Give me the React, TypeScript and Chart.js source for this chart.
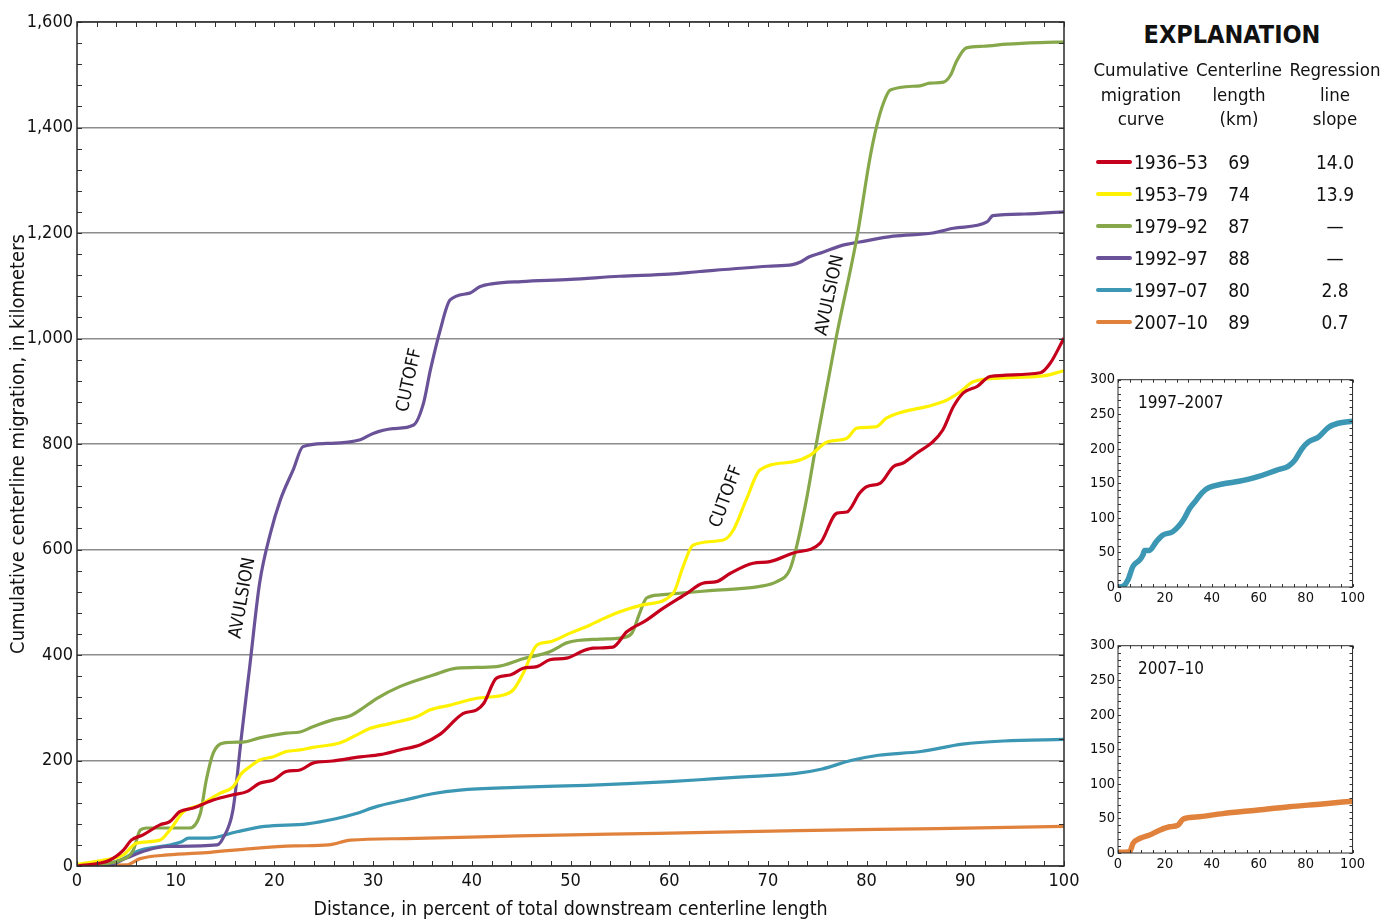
import React, { useEffect, useRef } from "react";
import { Chart, registerables } from "chart.js";

Chart.register(...registerables);

const FONT = "'Liberation Sans Narrow', 'DejaVu Sans Condensed', 'Arial Narrow', sans-serif";
Chart.defaults.font.family = FONT;

// ---------- DATA ----------
const red1936X = [0, 3.3, 4.7, 5.5, 6.7, 8.4, 9.4, 10.4, 11.8, 13.8, 15.8, 17.2, 18.5, 19.9, 21.2, 22.6, 23.9, 25.9, 28.7, 30.7, 32.7, 34.8, 36.8, 39.1, 40.5, 41.2, 42.5, 43.9, 45.2, 46.6, 47.9, 49.6, 51.3, 52.3, 54.3, 55.7, 57.7, 59.1, 61.8, 63.4, 64.8, 66.2, 68.5, 70.2, 72.5, 75.3, 77, 78, 79.3, 80, 81.4, 82.7, 83.7, 85.1, 86.7, 87.7, 88.8, 89.8, 91.2, 92.5, 97.6, 98.6, 100];
const red1936Y = [0, 11, 30, 49, 59, 78, 84, 103, 110, 125, 135, 141, 157, 163, 179, 182, 195, 199, 207, 211, 220, 230, 250, 289, 296, 308, 356, 362, 375, 378, 391, 394, 408, 413, 415, 444, 466, 485, 517, 536, 539, 555, 574, 577, 593, 612, 669, 671, 707, 719, 726, 757, 764, 783, 804, 826, 871, 897, 909, 928, 935, 953, 1001];

const yellow1953X = [0, 2.6, 4.7, 6, 8.4, 9.4, 10.8, 12.5, 14.5, 15.8, 16.7, 17.5, 18.5, 19.9, 21.2, 22.6, 23.9, 26.6, 28.7, 29.7, 31.7, 34.4, 35.8, 37.8, 40.5, 43.2, 44.2, 45.2, 46.6, 47.9, 49.9, 52, 53, 55, 57.3, 60.4, 61.4, 62.4, 65.5, 66.5, 67.8, 69.2, 72.5, 74.3, 76, 78, 79, 81, 82, 86.7, 88.1, 89.5, 90.8, 93.5, 97.9, 100];
const yellow1953Y = [3, 11, 21, 43, 49, 68, 103, 116, 138, 150, 176, 188, 201, 207, 217, 220, 225, 233, 252, 261, 270, 283, 296, 305, 318, 324, 334, 365, 419, 425, 441, 457, 466, 482, 495, 517, 567, 608, 618, 637, 694, 751, 766, 779, 804, 811, 830, 833, 849, 874, 883, 899, 918, 925, 929, 939];

const green1979X = [0, 4.4, 5.7, 6.4, 7.1, 11.4, 12.5, 13.1, 13.8, 14.8, 16.8, 18.5, 21.2, 22.6, 23.9, 25.9, 27.7, 28.7, 30.4, 32.7, 36.1, 38.5, 42.5, 45.2, 47.9, 48.9, 49.6, 53, 55, 56.2, 57, 57.7, 59.1, 64.1, 69.2, 70.9, 72.2, 72.9, 73.9, 74.9, 76.9, 79.1, 80.3, 81, 81.7, 82.4, 85.4, 86.4, 87.8, 88.5, 89.1, 90.1, 91.8, 94.2, 97.6, 100];
const green1979Y = [0, 11, 30, 68, 72, 72, 100, 163, 214, 233, 235, 243, 252, 254, 264, 277, 285, 296, 318, 340, 362, 375, 378, 393, 406, 416, 423, 430, 432, 441, 479, 508, 514, 522, 530, 539, 561, 605, 694, 800, 1000, 1200, 1338, 1401, 1446, 1471, 1479, 1484, 1486, 1499, 1525, 1551, 1554, 1558, 1561, 1562];

const purple1992X = [0, 3.3, 5, 7.1, 9.1, 14.2, 14.8, 15.8, 16.7, 17.5, 18.5, 19.6, 20.6, 21.9, 22.9, 25.3, 28.7, 30, 32, 34.1, 35.1, 35.8, 36.8, 37.8, 39.8, 40.8, 42.2, 45, 50, 55, 60, 63.1, 70, 72.5, 73.3, 74.2, 75.5, 77.6, 79.3, 82.7, 86.7, 88.8, 92.2, 92.8, 96, 100];
const purple1992Y = [0, 2, 15, 30, 37, 40, 53, 106, 252, 378, 536, 631, 694, 751, 795, 801, 808, 820, 829, 836, 877, 940, 1016, 1073, 1086, 1098, 1104, 1108, 1112, 1118, 1122, 1127, 1137, 1140, 1145, 1155, 1163, 1177, 1183, 1194, 1200, 1209, 1221, 1233, 1236, 1240];

const teal1997X = [0, 2.1, 4.2, 6.4, 9.2, 10.6, 11.3, 13.4, 16.2, 19, 23.3, 26.1, 28.2, 30.4, 33.2, 36, 38.8, 44.5, 51.6, 55.8, 60, 64.3, 68.5, 72.7, 75.5, 78.4, 81.2, 85.5, 89.7, 93.9, 100];
const teal1997Y = [0, 1, 10, 30, 39, 46, 53, 53, 65, 75, 80, 89, 99, 113, 125, 137, 144, 149, 153, 156, 160, 165, 170, 175, 184, 200, 210, 217, 231, 237, 240];

const orange2007X = [0, 5, 6.4, 9.2, 13.5, 17.7, 22, 25.5, 27.7, 33.3, 44.7, 58.9, 73, 87.2, 100];
const orange2007Y = [1, 2, 14, 21, 26, 33, 38, 40, 49, 52, 57, 62, 67, 71, 75];

const legendYears = ["1936–53", "1953–79", "1979–92", "1992–97", "1997–07", "2007–10"];
const legendLengths = ["69", "74", "87", "88", "80", "89"];
const legendSlopes = ["14.0", "13.9", "—", "—", "2.8", "0.7"];

const annotationText = ["AVULSION", "CUTOFF", "CUTOFF", "AVULSION"];
const annotationX = [16.8, 33.7, 65.8, 76.3];
const annotationY = [508, 921, 700, 1082];
const annotationAngle = [-80, -78, -70, -78];

// ---------- STYLE ----------
const COLORS = ["#c4001c", "#fff200", "#86a84a", "#6a5298", "#3b97b3", "#e0823c"];
const seriesX = [red1936X, yellow1953X, green1979X, purple1992X, teal1997X, orange2007X];
const seriesY = [red1936Y, yellow1953Y, green1979Y, purple1992Y, teal1997Y, orange2007Y];

const toPoints = (xs: number[], ys: number[]) => xs.map((x, i) => ({ x, y: ys[i] }));

function framePlugin(xStep: number, yStep: number, len: number, width: number) {
  return {
    id: "frame",
    afterDraw(chart: any) {
      const { ctx, chartArea: a, scales } = chart;
      const xs = scales.x;
      const ys = scales.y;
      ctx.save();
      ctx.strokeStyle = "#333";
      ctx.lineWidth = 1;
      ctx.beginPath();
      for (let v = xs.min; v <= xs.max + 1e-9; v += xStep) {
        const p = Math.round(xs.getPixelForValue(v)) + 0.5;
        ctx.moveTo(p, a.bottom);
        ctx.lineTo(p, a.bottom - len);
        ctx.moveTo(p, a.top);
        ctx.lineTo(p, a.top + len);
      }
      for (let v = ys.min; v <= ys.max + 1e-9; v += yStep) {
        const p = Math.round(ys.getPixelForValue(v)) + 0.5;
        ctx.moveTo(a.left, p);
        ctx.lineTo(a.left + len, p);
        ctx.moveTo(a.right, p);
        ctx.lineTo(a.right - len, p);
      }
      ctx.stroke();
      ctx.lineWidth = width;
      ctx.strokeStyle = "#2a2a2a";
      ctx.strokeRect(a.left, a.top, a.right - a.left, a.bottom - a.top);
      ctx.restore();
    },
  };
}

const annotationPlugin = {
  id: "annotations",
  afterDatasetsDraw(chart: any) {
    const { ctx, scales } = chart;
    ctx.save();
    ctx.fillStyle = "#111";
    ctx.font = `18px ${FONT}`;
    ctx.textAlign = "center";
    ctx.textBaseline = "middle";
    annotationText.forEach((t, i) => {
      const px = scales.x.getPixelForValue(annotationX[i]);
      const py = scales.y.getPixelForValue(annotationY[i]);
      ctx.save();
      ctx.translate(px, py);
      ctx.rotate((annotationAngle[i] * Math.PI) / 180);
      ctx.fillText(t, 0, 0);
      ctx.restore();
    });
    ctx.restore();
  },
};

function MainChart() {
  const ref = useRef<HTMLCanvasElement>(null);
  useEffect(() => {
    const datasets = seriesX.map((xs, i) => ({
      label: legendYears[i],
      data: toPoints(xs, seriesY[i]),
      borderColor: COLORS[i],
      backgroundColor: COLORS[i],
      borderWidth: 3.2,
      pointRadius: 0,
      cubicInterpolationMode: "monotone" as const,
      fill: false,
    }));
    const chart = new Chart(ref.current as HTMLCanvasElement, {
      type: "line",
      data: { datasets },
      options: {
        animation: false,
        responsive: false,
        maintainAspectRatio: false,
        layout: { padding: { top: 22, right: 21, left: 0, bottom: 0 } },
        plugins: { legend: { display: false }, tooltip: { enabled: false } },
        scales: {
          x: {
            type: "linear",
            min: 0,
            max: 100,
            ticks: { stepSize: 10, color: "#111", font: { size: 18 }, padding: 5, maxRotation: 0 },
            grid: { display: false, drawTicks: false },
            border: { display: false },
            title: { display: true, text: "Distance, in percent of total downstream centerline length", color: "#111", font: { size: 19.5 }, padding: { top: 0, bottom: 0 } },
            afterFit: (s: any) => { s.height = 56; },
          },
          y: {
            min: 0,
            max: 1600,
            ticks: { stepSize: 200, color: "#111", font: { size: 18 }, padding: 4, callback: (v: any) => Number(v).toLocaleString("en-US") },
            grid: { color: "#8c8c8c", lineWidth: 1.5, drawTicks: false },
            border: { display: false },
            title: { display: true, text: "Cumulative centerline migration, in kilometers", color: "#111", font: { size: 20 }, padding: { top: 7, bottom: 0 } },
            afterFit: (s: any) => { s.width = 77; },
          },
        },
      },
      plugins: [framePlugin(2, 40, 5, 1.5), annotationPlugin],
    });
    return () => chart.destroy();
  }, []);
  return <canvas ref={ref} width={1085} height={922} style={{ position: "absolute", left: 0, top: 0 }} />;
}

function Inset({ idx, title, top }: { idx: number; title: string; top: number }) {
  const ref = useRef<HTMLCanvasElement>(null);
  useEffect(() => {
    const labelPlugin = {
      id: "insetLabel",
      afterDraw(chart: any) {
        const { ctx, chartArea: a } = chart;
        ctx.save();
        ctx.fillStyle = "#111";
        ctx.font = `17px ${FONT}`;
        ctx.textAlign = "left";
        ctx.textBaseline = "middle";
        ctx.fillText(title, a.left + 20, a.top + 24);
        ctx.restore();
      },
    };
    const chart = new Chart(ref.current as HTMLCanvasElement, {
      type: "line",
      data: {
        datasets: [
          {
            label: title,
            data: toPoints(seriesX[idx], seriesY[idx]),
            borderColor: COLORS[idx],
            borderWidth: 5.5,
            pointRadius: 0,
            cubicInterpolationMode: "monotone" as const,
            fill: false,
          },
        ],
      },
      options: {
        animation: false,
        responsive: false,
        maintainAspectRatio: false,
        layout: { padding: { top: 9, right: 14, left: 0, bottom: 0 } },
        plugins: { legend: { display: false }, tooltip: { enabled: false } },
        scales: {
          x: {
            type: "linear",
            min: 0,
            max: 100,
            ticks: { stepSize: 20, color: "#111", font: { size: 14.5 }, padding: 3, maxRotation: 0 },
            grid: { display: false, drawTicks: false },
            border: { display: false },
            afterFit: (s: any) => { s.height = 21; },
          },
          y: {
            min: 0,
            max: 300,
            ticks: { stepSize: 50, color: "#111", font: { size: 14.5 }, padding: 3 },
            grid: { display: false, drawTicks: false },
            border: { display: false },
            afterFit: (s: any) => { s.width = 30; },
          },
        },
      },
      plugins: [framePlugin(5, 10, 3, 1), labelPlugin],
    });
    return () => chart.destroy();
  }, []);
  return <canvas ref={ref} width={280} height={240} style={{ position: "absolute", left: 1088, top }} />;
}

const txt: React.CSSProperties = { position: "absolute", fontSize: 19, color: "#111", whiteSpace: "nowrap" };

function Legend() {
  const cols = [
    { cx: 1141, lines: ["Cumulative", "migration", "curve"] },
    { cx: 1239, lines: ["Centerline", "length", "(km)"] },
    { cx: 1335, lines: ["Regression", "line", "slope"] },
  ];
  return (
    <>
      <div style={{ ...txt, left: 1132, width: 200, top: 20, textAlign: "center", fontSize: 25, fontWeight: "bold", lineHeight: "30px" }}>EXPLANATION</div>
      {cols.map((c, i) => (
        <div key={i} style={{ ...txt, left: c.cx - 60, width: 120, top: 58, textAlign: "center", lineHeight: "24.5px", fontSize: 18.5 }}>
          {c.lines.map((l, j) => (
            <div key={j}>{l}</div>
          ))}
        </div>
      ))}
      {legendYears.map((y, i) => {
        const cy = 162 + i * 32;
        return (
          <React.Fragment key={y}>
            <div style={{ position: "absolute", left: 1096, top: cy - 2, width: 36, height: 4, background: COLORS[i], borderRadius: 2 }} />
            <div style={{ ...txt, left: 1134, top: cy - 12, lineHeight: "24px" }}>{y}</div>
            <div style={{ ...txt, left: 1239 - 30, width: 60, top: cy - 12, lineHeight: "24px", textAlign: "center" }}>{legendLengths[i]}</div>
            <div style={{ ...txt, left: 1335 - 30, width: 60, top: cy - 12, lineHeight: "24px", textAlign: "center" }}>{legendSlopes[i]}</div>
          </React.Fragment>
        );
      })}
    </>
  );
}

export default function App() {
  return (
    <div style={{ position: "absolute", left: 0, top: 0, width: 1399, height: 922, background: "#fff", fontFamily: FONT, overflow: "hidden" }}>
      <MainChart />
      <Legend />
      <Inset idx={4} title="1997–2007" top={368} />
      <Inset idx={5} title="2007–10" top={634} />
    </div>
  );
}
